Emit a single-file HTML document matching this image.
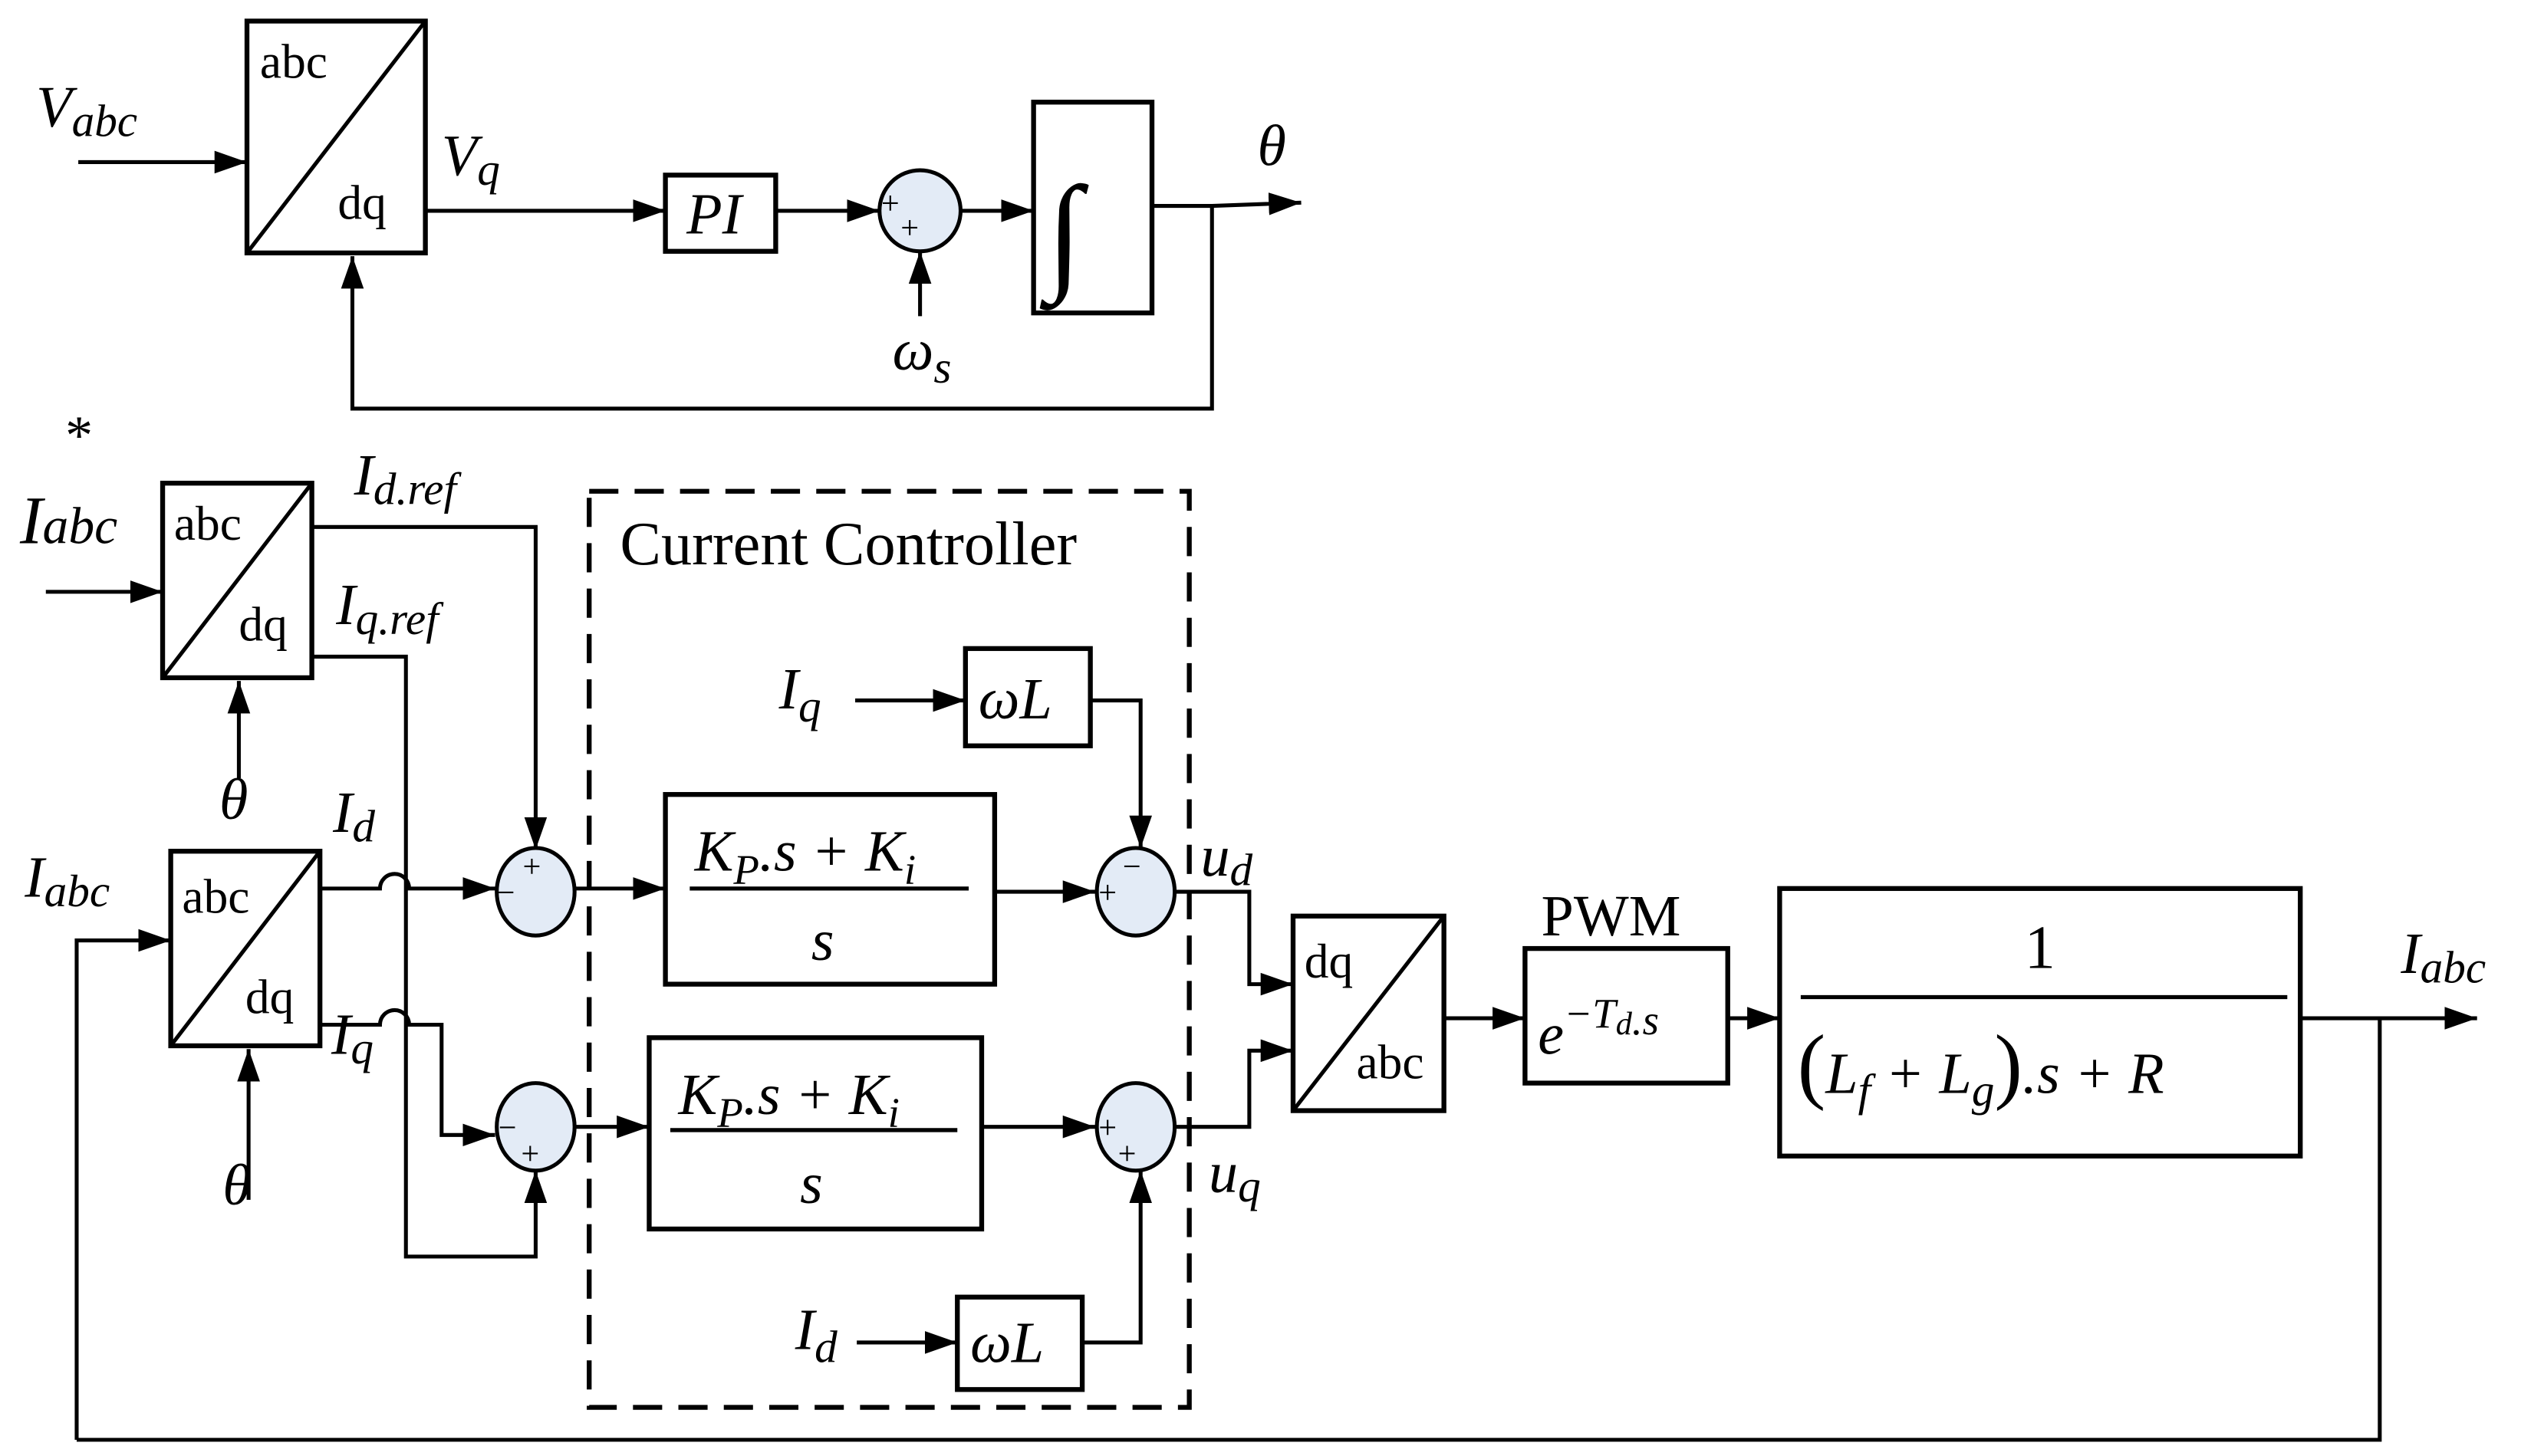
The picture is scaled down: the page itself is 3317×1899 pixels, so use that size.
<!DOCTYPE html>
<html><head><meta charset="utf-8"><style>
html,body{margin:0;padding:0;background:#fff;}
svg{display:block}
text{font-family:"Liberation Serif",serif;fill:#000}
.i{font-style:italic}
</style></head><body>
<svg width="3317" height="1899" viewBox="0 0 1568 898" xmlns="http://www.w3.org/2000/svg">
<defs>
<marker id="a" viewBox="0 0 10 10" refX="10" refY="5" markerWidth="20" markerHeight="20" markerUnits="userSpaceOnUse" orient="auto"><path d="M0,1.5 L10,5 L0,8.5 z" fill="#000"/></marker>
</defs>
<g stroke="#000" stroke-width="2.4" fill="none">
<!-- top -->
<line x1="48" y1="100" x2="152" y2="100" marker-end="url(#a)"/>
<rect x="152" y="13" width="110" height="143" stroke-width="3"/>
<line x1="152" y1="156" x2="262" y2="13"/>
<line x1="262" y1="130" x2="410" y2="130" marker-end="url(#a)"/>
<rect x="410" y="108" width="68" height="47" stroke-width="3"/>
<line x1="478" y1="130" x2="542" y2="130" marker-end="url(#a)"/>
<ellipse cx="567" cy="130" rx="25" ry="25" fill="#e3ebf6"/>
<line x1="567" y1="195" x2="567" y2="155" marker-end="url(#a)"/>
<line x1="592" y1="130" x2="637" y2="130" marker-end="url(#a)"/>
<rect x="637" y="63" width="73" height="130" stroke-width="3"/>
<polyline points="710,127 747,127 747,252 217,252 217,158" marker-end="url(#a)"/>
<line x1="747" y1="127" x2="802" y2="125" marker-end="url(#a)"/>
<!-- block 1 -->
<line x1="28" y1="365" x2="100" y2="365" marker-end="url(#a)"/>
<rect x="100" y="298" width="92" height="120" stroke-width="3"/>
<line x1="100" y1="418" x2="192" y2="298"/>
<line x1="147" y1="480" x2="147" y2="420" marker-end="url(#a)"/>
<polyline points="192,325 330,325 330,524" marker-end="url(#a)"/>
<polyline points="192,405 250,405 250,775 330,775 330,722" marker-end="url(#a)"/>
<!-- block 2 -->
<polyline points="47,888 47,580 105,580" marker-end="url(#a)"/>
<rect x="105" y="525" width="92" height="120" stroke-width="3"/>
<line x1="105" y1="645" x2="197" y2="525"/>
<line x1="153" y1="740" x2="153" y2="647" marker-end="url(#a)"/>
<path d="M197,548 L234,548 A9,9 0 0 1 252,548 L305,548" marker-end="url(#a)"/>
<path d="M197,632 L234,632 A9,9 0 0 1 252,632 L272,632 L272,700 L305,700" marker-end="url(#a)"/>
<ellipse cx="330" cy="550" rx="24" ry="27" fill="#e3ebf6"/>
<ellipse cx="330" cy="695" rx="24" ry="27" fill="#e3ebf6"/>
<!-- dashed -->
<rect x="363" y="303" width="370" height="565" stroke-width="3" stroke-dasharray="18,10"/>
<line x1="354" y1="548" x2="410" y2="548" marker-end="url(#a)"/>
<rect x="410" y="490" width="203" height="117" stroke-width="3"/>
<line x1="425" y1="548" x2="597" y2="548" stroke-width="2.5"/>
<line x1="613" y1="550" x2="675" y2="550" marker-end="url(#a)"/>
<ellipse cx="700" cy="550" rx="24" ry="27" fill="#e3ebf6"/>
<line x1="527" y1="432" x2="595" y2="432" marker-end="url(#a)"/>
<rect x="595" y="400" width="77" height="60" stroke-width="3"/>
<polyline points="672,432 703,432 703,523" marker-end="url(#a)"/>
<line x1="354" y1="695" x2="400" y2="695" marker-end="url(#a)"/>
<rect x="400" y="640" width="205" height="118" stroke-width="3"/>
<line x1="413" y1="697" x2="590" y2="697" stroke-width="2.5"/>
<line x1="605" y1="695" x2="675" y2="695" marker-end="url(#a)"/>
<ellipse cx="700" cy="695" rx="24" ry="27" fill="#e3ebf6"/>
<line x1="528" y1="828" x2="590" y2="828" marker-end="url(#a)"/>
<rect x="590" y="800" width="77" height="57" stroke-width="3"/>
<polyline points="667,828 703,828 703,722" marker-end="url(#a)"/>
<polyline points="724,550 770,550 770,607 797,607" marker-end="url(#a)"/>
<polyline points="724,695 770,695 770,648 797,648" marker-end="url(#a)"/>
<rect x="797" y="565" width="93" height="120" stroke-width="3"/>
<line x1="797" y1="685" x2="890" y2="565"/>
<line x1="890" y1="628" x2="940" y2="628" marker-end="url(#a)"/>
<rect x="940" y="585" width="125" height="83" stroke-width="3"/>
<line x1="1065" y1="628" x2="1097" y2="628" marker-end="url(#a)"/>
<rect x="1097" y="548" width="321" height="165" stroke-width="3"/>
<line x1="1110" y1="615" x2="1410" y2="615" stroke-width="2.5"/>
<line x1="1418" y1="628" x2="1527" y2="628" marker-end="url(#a)"/>
<polyline points="1467,628 1467,888 47,888"/>
</g>
<g font-size="20">
<text x="543" y="132">+</text><text x="555" y="147">+</text>
<text x="322" y="541">+</text><text x="306" y="557">−</text>
<text x="307" y="702">−</text><text x="321" y="718">+</text>
<text x="692" y="541">−</text><text x="677" y="557">+</text>
<text x="677" y="702">+</text><text x="689" y="718">+</text>
</g>
<g font-size="30">
<text x="160" y="48">abc</text><text x="208" y="135">dq</text>
<text x="107" y="333">abc</text><text x="147" y="395">dq</text>
<text x="112" y="563">abc</text><text x="151" y="625">dq</text>
<text x="804" y="603">dq</text><text x="836" y="665">abc</text>
<text x="950" y="577" font-size="36">PWM</text>
<text x="382" y="348" font-size="38">Current Controller</text>
<text x="1248" y="597" font-size="38">1</text>
</g>
<g class="i" font-size="36">
<text x="22" y="78">V<tspan font-size="28" dy="6">abc</tspan></text>
<text x="272" y="108">V<tspan font-size="28" dy="6">q</tspan></text>
<text x="423" y="144">PI</text>
<text x="645" y="170" font-size="80" font-style="normal">∫</text>
<text x="775" y="102">θ</text>
<text x="550" y="228">ω<tspan font-size="28" dy="8">s</tspan></text>
<text x="12" y="335" font-size="42">I<tspan font-size="32" dy="0">abc</tspan></text>
<text x="40" y="280" font-size="34" font-style="normal">*</text>
<text x="218" y="305">I<tspan font-size="28" dy="6">d.ref</tspan></text>
<text x="207" y="385">I<tspan font-size="28" dy="6">q.ref</tspan></text>
<text x="135" y="505">θ</text><text x="137" y="743">θ</text>
<text x="15" y="553">I<tspan font-size="28" dy="6">abc</tspan></text>
<text x="205" y="513">I<tspan font-size="28" dy="6">d</tspan></text>
<text x="204" y="650">I<tspan font-size="28" dy="6">q</tspan></text>
<text x="428" y="537">K<tspan font-size="26" dy="8">P</tspan><tspan dy="-8">.s + K</tspan><tspan font-size="26" dy="8">i</tspan></text>
<text x="500" y="592">s</text>
<text x="418" y="687">K<tspan font-size="26" dy="8">P</tspan><tspan dy="-8">.s + K</tspan><tspan font-size="26" dy="8">i</tspan></text>
<text x="493" y="742">s</text>
<text x="480" y="437">I<tspan font-size="28" dy="8">q</tspan></text>
<text x="603" y="443">ωL</text>
<text x="490" y="832">I<tspan font-size="28" dy="8">d</tspan></text>
<text x="598" y="840">ωL</text>
<text x="740" y="540">u<tspan font-size="28" dy="6">d</tspan></text>
<text x="745" y="735">u<tspan font-size="28" dy="6">q</tspan></text>
<text x="948" y="650">e<tspan font-size="26" dy="-16">−T</tspan><tspan font-size="20" dy="4">d</tspan><tspan font-size="26" dy="0">.s</tspan></text>
<text x="1108" y="674"><tspan font-size="52" font-style="normal">(</tspan>L<tspan font-size="28" dy="8">f</tspan><tspan dy="-8"> + L</tspan><tspan font-size="28" dy="8">g</tspan><tspan dy="-8" font-size="52" font-style="normal">)</tspan>.s + R</text>
<text x="1480" y="600">I<tspan font-size="28" dy="6">abc</tspan></text>
</g>
</svg>
</body></html>
